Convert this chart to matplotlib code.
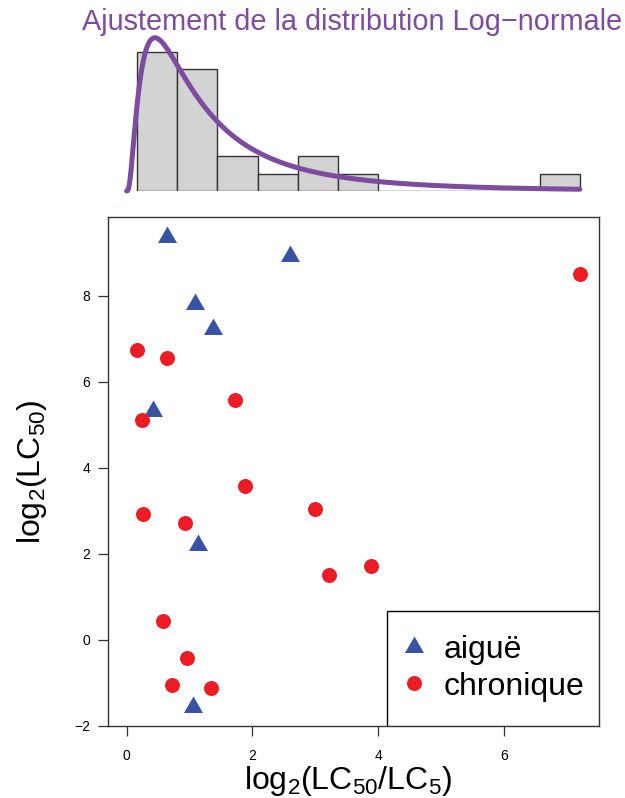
import numpy as np
import matplotlib
matplotlib.use("Agg")
import matplotlib.pyplot as plt
from matplotlib.lines import Line2D
from matplotlib.patches import Rectangle

plt.rcParams['font.family'] = ['Liberation Sans', 'DejaVu Sans']
plt.rcParams['mathtext.fontset'] = 'custom'
plt.rcParams['mathtext.rm'] = 'Liberation Sans'
plt.rcParams['mathtext.it'] = 'Liberation Sans:italic'

# données : x = log2(LC50/LC5), y = log2(LC50)
aigue_x = [0.64, 2.59, 1.08, 1.38, 0.42, 1.14, 1.05]
aigue_y = [9.38, 8.92, 7.80, 7.24, 5.31, 2.20, -1.57]
chron_x = [0.16, 0.65, 1.72, 0.24, 1.88, 0.26, 0.93, 3.00, 3.21, 3.88,
           0.58, 0.96, 0.72, 1.34, 7.20]
chron_y = [6.74, 6.56, 5.58, 5.12, 3.58, 2.93, 2.72, 3.04, 1.51, 1.72,
           0.43, -0.43, -1.05, -1.12, 8.51]
labels = ["aiguë", "chronique"]
x_ticks = [0, 2, 4, 6]
y_ticks = [-2, 0, 2, 4, 6, 8]
n_bins = 11

col_tri = "#3953A4"
col_pt = "#ED1C24"
col_fit = "#7D4BA0"

# triangle équilatéral centré sur son centre de gravité (comme pch=17)
h = np.sqrt(3) / 2
tri = [(-0.5, -h / 3), (0.5, -h / 3), (0.0, 2 * h / 3), (-0.5, -h / 3)]

fig = plt.figure(figsize=(6.25, 7.98), dpi=100)
ax = fig.add_axes([0.1733, 0.0906, 0.7846, 0.6378])
axh = fig.add_axes([0.1733, 0.7607, 0.7846, 0.2018], sharex=ax)

# nuage de points
ax.plot(aigue_x, aigue_y, ls="none", marker=tri, ms=15.8, color=col_tri,
        mec="none")
ax.plot(chron_x, chron_y, ls="none", marker="o", ms=10.8, color=col_pt,
        mec="none")
ax.set_xlim(-0.29, 7.50)
ax.set_ylim(-1.99, 9.84)
ax.set_xticks(x_ticks)
ax.set_yticks(y_ticks)
ax.set_yticklabels([str(v).replace("-", "\u2212") for v in y_ticks])
ax.tick_params(length=7.2, width=0.9, labelsize=10, pad=6, color="#333333")
ax.tick_params(axis="x", pad=9.5)
for s in ax.spines.values():
    s.set_color("#333333")
    s.set_linewidth(1.0)
ax.set_xlabel(r"$\mathregular{log_2(LC_{50}/LC_5)}$", fontsize=23)
ax.xaxis.set_label_coords(0.488, -0.076)
ax.set_ylabel(r"$\mathregular{log_2(LC_{50})}$", fontsize=23)
ax.yaxis.set_label_coords(-0.121, 0.5)

# cadre de légende (blanc, recouvre les points)
lx0, lh = 0.568, 0.226
ax.add_patch(Rectangle((lx0, 0), 1 - lx0, lh, transform=ax.transAxes,
                       facecolor="white", edgecolor="black", lw=1.0, zorder=4))
handles = [Line2D([], [], ls="none", marker=tri, ms=15.8, color=col_tri, mec="none"),
           Line2D([], [], ls="none", marker="o", ms=10.8, color=col_pt, mec="none")]
leg = ax.legend(handles, labels, loc="center", fontsize=23,
                bbox_to_anchor=(lx0 + 0.004, 0, 1 - lx0, lh),
                frameon=False, borderaxespad=0, borderpad=0,
                handlelength=0.56, handletextpad=0.62, labelspacing=0.21)
leg.set_zorder(5)

# histogramme + ajustement log-normal
all_x = np.array(aigue_x + chron_x)
counts, edges = np.histogram(all_x, bins=n_bins)
axh.bar(edges[:-1], counts, width=np.diff(edges), align="edge",
        color="#D3D3D3", edgecolor="#333333", linewidth=1.0)
logs = np.log(all_x)
mu, sig = logs.mean(), logs.std()
xs = np.linspace(0.001, all_x.max(), 500)
pdf = np.exp(-(np.log(xs) - mu) ** 2 / (2 * sig ** 2)) / (xs * sig * np.sqrt(2 * np.pi))
axh.plot(xs, pdf * len(all_x) * (edges[1] - edges[0]), color=col_fit, lw=3.6,
         clip_on=False, solid_capstyle="round")
axh.set_ylim(0, 9.25)
axh.axis("off")

fig.text(0.564, 0.9624, "Ajustement de la distribution Log\u2212normale",
         ha="center", va="baseline", fontsize=20.8, color=col_fit)

fig.savefig("out.png", dpi=100)
